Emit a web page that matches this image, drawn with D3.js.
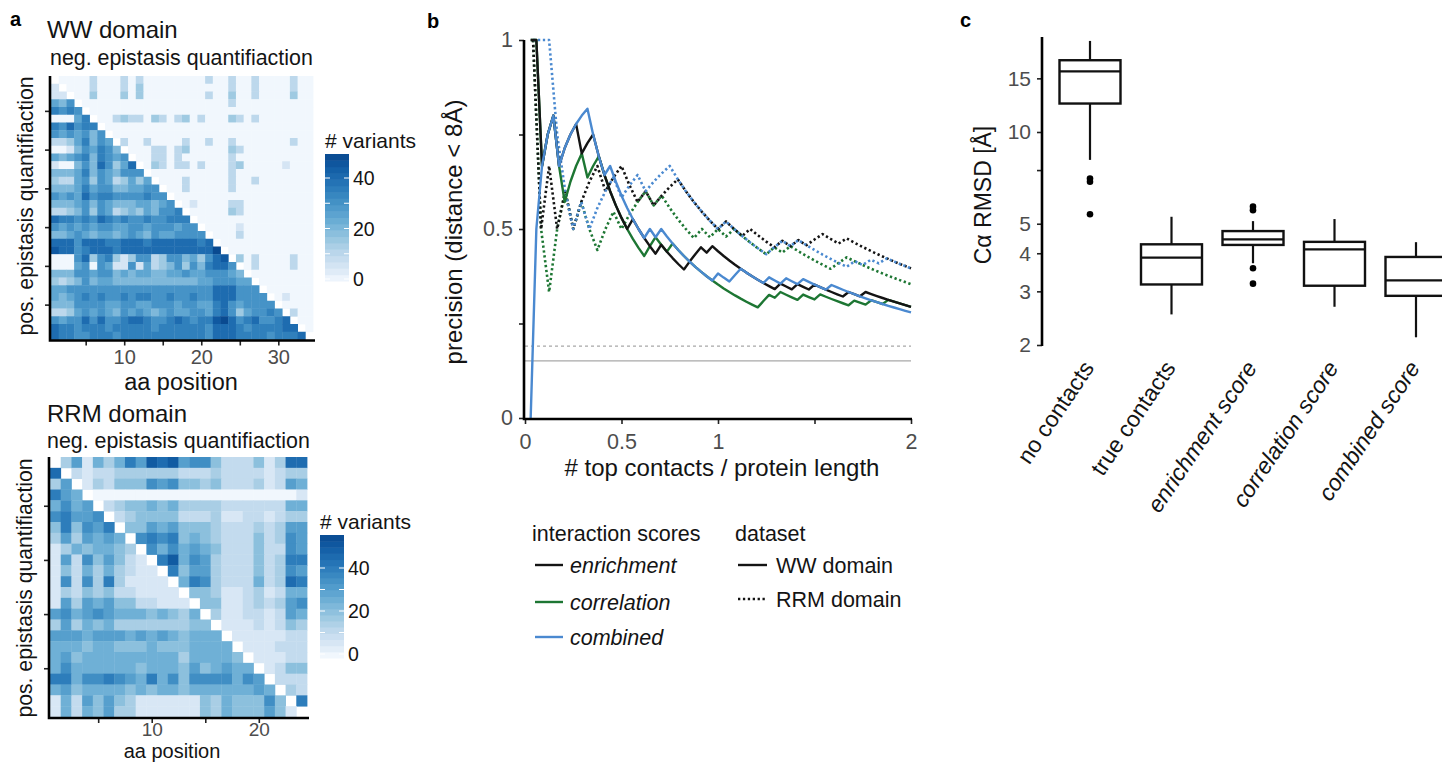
<!DOCTYPE html>
<html>
<head>
<meta charset="utf-8">
<script src="https://cdn.jsdelivr.net/npm/d3@7"></script>
<style>
  body { margin: 0; background: #fff; }
  svg text { font-family: "Liberation Sans", Arial, Helvetica, sans-serif; }
</style>
</head>
<body>
<svg id="fig" width="1442" height="763"></svg>
<script>
// ---------- data ----------
// heatmaps: one string per row (row 1 at top), one char per aa position,
// char = number of variants / 5 (base 36, so "a" = 50), "." = diagonal (no value)
var wwRows = [
  ".0000 20002 02000 00000 20020 02000 0200",
  "1.000 20002 03000 00000 00020 02000 0200",
  "11.00 30003 03000 00000 20030 02000 0300",
  "546.0 00000 00000 00000 00020 00000 0000",
  "7676. 00000 00000 00000 00000 00000 0000",
  "00057 .0023 22032 02302 00032 02000 0000",
  "76867 7.000 00000 00000 00000 00000 0000",
  "65656 46.00 00000 00000 00000 00000 0000",
  "22357 465.2 00200 00200 20020 00000 0200",
  "00146 5764. 00022 02300 00032 00000 0000",
  "54567 47656 .0022 02000 00020 00000 0000",
  "10046 48635 8.032 02202 00023 00000 1000",
  "44457 46546 66.00 00000 00020 00000 0000",
  "32256 36523 535.0 00200 00020 02000 0000",
  "44457 56644 5566. 00200 00020 00000 0000",
  "65658 67766 66766 .0000 00000 00000 0000",
  "44456 46544 45545 6.010 00022 00000 0000",
  "22346 36523 43546 67.00 00032 00000 0000",
  "87767 68767 66766 777.0 00000 00000 0000",
  "65656 56655 66566 6566. 00001 00000 0000",
  "44565 45545 65465 56666 .0002 00000 0000",
  "88868 88778 88788 88887 8.000 00000 0000",
  "98867 88878 88888 88888 8a.00 00000 0000",
  "00068 36731 36623 66453 689.3 02000 0200",
  "00056 06511 61523 46364 7886. 02000 0200",
  "44466 56645 45544 55655 66654 .0000 0000",
  "32346 45544 44444 44445 56665 5.000 0000",
  "55666 66666 66666 66666 68886 66.00 0000",
  "54567 67667 67766 76676 68886 666.0 1000",
  "44466 66556 65566 65665 57865 6666. 0000",
  "22356 56546 56545 65566 57863 56676 .200",
  "65668 68667 88766 78767 79a86 78667 8.00",
  "87767 77677 77767 77777 68887 67777 88.0",
  "87766 77767 77777 77777 68887 77767 778."
];
var rrmRows = [
  ".3615 3586a 9a677 42224 1399",
  "9.212 23333 33222 32222 1233",
  "36.13 24447 67443 42223 1265",
  "865.0 00000 00000 00000 0001",
  "5756. 23445 45333 32222 2255",
  "78667 .2344 44222 31122 1233",
  "48476 8.446 56444 32223 2366",
  "36365 65.78 78454 32224 2376",
  "13545 543.7 57565 42224 2276",
  "16274 6421. 8a576 32224 2388",
  "14253 53211 .8466 32224 2376",
  "17273 83111 1.587 32225 2398",
  "13243 42211 11.44 31123 1255",
  "16365 64422 111.4 41123 2367",
  "67567 65554 5435. 31122 1265",
  "36354 53333 33344 .1112 1243",
  "66656 66565 65455 5.111 1122",
  "55545 54445 44455 55.11 1222",
  "56455 55555 55355 554.1 1122",
  "57555 55545 55464 5655. 1244",
  "88577 87658 57477 77576 .222",
  "56455 55454 55455 55556 5.32",
  "15264 64311 11114 35444 74.8",
  "15254 63311 11114 35444 641."
];
var wwLength = 34, rrmLength = 24;
var wwMax = 49, rrmMax = 55;
var wwTicks = [5, 10, 15, 20, 25, 30], wwTickLabels = [10, 20, 30];
var rrmTicks = [5, 10, 15, 20], rrmTickLabels = [10, 20];
var barTicks = [0, 10, 20, 30, 40], barLabels = [0, 20, 40];

// panel b: number of true contacts among the top k predicted contacts (k = 1, 2, ...)
var wwEnrichHits = [1,2,2,3,4,4,5,6,7,7,8,9, 9,9,9,9,9,9, 10,10,10,10,10, 11,11,11,11,11, 12,13,14,14,
  15,15,15,15,15,15,15,15,15,15,15,15, 16,16,16, 17,17,17, 18,18,18,18,18,18, 19,19,19, 20,20,20,20,20,20,20,20,20];
var wwCorrHits = [1,2,2,3,4,4,4,5,6,7,7,8,9, 9,9,9,9,9,9,9,9, 10, 11,11,11,
  12,12,12,12,12,12,12,12,12,12,12,12,12,12,12,12, 13, 14,14, 15,15,15,15, 16,16,16,
  17,17,17,17,17,17, 18,18,18, 19,19,19, 20,20,20,20,20];
var wwCombHits = [0,1,2,3,4,4,5,6,7,8,9, 9,9,9, 10,10,10,10,10,10,10, 11,11,
  12,12,12,12,12,12,12,12,12,12, 13,13,13, 14, 15,15,15,15,15, 16,16,16, 17,17,17, 18,18,18,18,18,
  19,19,19,19,19,19,19,19,19,19,19,19,19,19,19];
var rrmEnrichHits = [1,1,2,2,3,3,4,5,6, 6,7,8,8,8,9,9,10,11,12, 12,12,12,12,12, 13,13,13, 14,14,14,14,
  15,15, 16,16, 17, 18,18,18, 19,19,19,19,19,19,19,19,19];
var rrmCorrHits = [1,1,1,2,3,3,4,4,4,5, 6,6,7,8,9,9,10, 10,10,10,10, 11,11, 12,12, 13,13,13,13,13,
  14,14, 15,15,15,15,15,15, 16, 17,17,17,17,17,17,17,17,17];
var rrmCombHits = [1,2,3,3,3,3,4,4, 5,6,7,7,8,9,9,10,11,12, 12,12,12,12,12,12, 13,13,13,13,13,13,
  14, 15,15, 16,16,16,16,16,16,16, 17,17, 18,18, 19,19,19,19];
var randomWW = 0.151, randomRRM = 0.19;

// panel c: Ca RMSD boxplots
var boxCats = ["no contacts", "true contacts", "enrichment score", "correlation score", "combined score"];
var boxItalic = [false, false, true, true, true];
var boxLow = [8.1, 2.52, 3.71, 2.67, 2.12];
var boxQ1 = [12.4, 3.16, 4.26, 3.13, 2.90];
var boxMed = [15.8, 3.87, 4.44, 4.12, 3.26];
var boxQ3 = [17.2, 4.28, 4.73, 4.36, 3.89];
var boxHigh = [19.9, 5.27, 5.10, 5.18, 4.35];
var boxOut = [[7.04, 6.87, 5.37], [], [5.69, 5.54, 3.57, 3.18], [], []];
var rmsdTicks = [2, 3, 4, 5, 7.5, 10, 15];

// ---------- helpers ----------
var svg = d3.select("#fig");
var INK = "#141414", GREY = "#4d4d4d";
var BLACK = "#141414", GREEN = "#1d7633", BLUE = "#4a89d0";

function label(x, y, s, size, o) {
  o = o || {};
  var t = svg.append("text").attr("x", x).attr("y", y).text(s)
    .attr("font-size", size).attr("fill", o.fill || INK)
    .attr("text-anchor", o.anchor || "start");
  if (o.bold) t.attr("font-weight", "bold");
  if (o.italic) t.attr("font-style", "italic");
  if (o.rotate) t.attr("transform", "rotate(" + o.rotate + "," + x + "," + y + ")");
  return t;
}

function styleAxis(g, size) {
  g.select(".domain").remove();
  g.selectAll(".tick line").attr("stroke", "#222").attr("stroke-width", 1.6);
  g.selectAll(".tick text").attr("font-size", size).attr("fill", GREY)
    .attr("font-family", "Liberation Sans, Arial, sans-serif");
}

// ---------- panel a: heatmaps ----------
function heatmap(rows, n, box, vmax, ticks, tickLabels, bar) {
  var cells = [];
  rows.forEach(function(r, i) {
    r.replace(/ /g, "").split("").forEach(function(ch, j) {
      if (ch !== ".") cells.push({row: i + 1, col: j + 1, v: parseInt(ch, 36) * 5});
    });
  });
  var ids = d3.range(1, n + 1);
  var x = d3.scaleBand().domain(ids).range([box.x0, box.x1]);
  var y = d3.scaleBand().domain(ids).range([box.y0, box.y1]);
  var color = function(v) {
    var t = Math.max(0, Math.min(v, vmax)) / vmax;
    return d3.interpolateBlues(0.03 + 0.87 * Math.pow(t, 0.8));
  };

  svg.append("g").selectAll("rect").data(cells).join("rect")
    .attr("x", d => x(d.col)).attr("y", d => y(d.row))
    .attr("width", x.bandwidth() + 0.4).attr("height", y.bandwidth() + 0.4)
    .attr("fill", d => color(d.v));

  var xl = d3.scaleLinear().domain([0.5, n + 0.5]).range([box.x0, box.x1]);
  var yl = d3.scaleLinear().domain([0.5, n + 0.5]).range([box.y0, box.y1]);
  var gx = svg.append("g").attr("transform", "translate(0," + (box.y1 + 1) + ")")
    .call(d3.axisBottom(xl).tickValues(ticks)
      .tickFormat(d => tickLabels.indexOf(d) >= 0 ? d : "")
      .tickSize(5).tickPadding(box.pad).tickSizeOuter(0));
  styleAxis(gx, box.tickFont);
  var gy = svg.append("g").attr("transform", "translate(" + (box.x0 - 1) + ",0)")
    .call(d3.axisLeft(yl).tickValues(ticks).tickFormat("").tickSize(5).tickSizeOuter(0));
  styleAxis(gy, 20);
  svg.append("path").attr("fill", "none").attr("stroke", "#000").attr("stroke-width", 2.6)
    .attr("d", "M" + (box.x0 - 1) + "," + box.y0 + "V" + (box.y1 + 1) + "H" + (box.x1 + 2));

  // colour bar
  var bs = d3.scaleLinear().domain([0, 40]).range([bar.y0v, bar.y40v]);
  var vTop = bs.invert(bar.top), vBot = bs.invert(bar.bottom);
  var nb = 20, step = (vTop - vBot) / nb;
  var bins = d3.range(nb).map(i => vBot + (i + 0.5) * step);
  svg.append("g").selectAll("rect").data(bins).join("rect")
    .attr("x", bar.x).attr("width", bar.w)
    .attr("y", d => bs(d + step / 2)).attr("height", d => bs(d - step / 2) - bs(d + step / 2) + 0.5)
    .attr("fill", d => color(d));
  svg.append("g").selectAll("path").data(barTicks).join("path")
    .attr("stroke", "#fff").attr("stroke-width", 1.2)
    .attr("d", d => "M" + bar.x + "," + bs(d) + "h5M" + (bar.x + bar.w - 5) + "," + bs(d) + "h5");
  barLabels.forEach(function(v) {
    label(bar.x + bar.w + 4, bs(v) + 7, v, 19.5, {fill: INK});
  });
  label(bar.x, bar.titleY, "# variants", 21, {});
}

heatmap(wwRows, wwLength, {x0: 51, x1: 313, y0: 76, y1: 339.5, pad: 4, tickFont: 20},
  wwMax, wwTicks, wwTickLabels,
  {x: 325, w: 24, top: 154, bottom: 281, y0v: 279, y40v: 178, titleY: 148});
heatmap(rrmRows, rrmLength, {x0: 50, x1: 307, y0: 457, y1: 717, pad: 0, tickFont: 19},
  rrmMax, rrmTicks, rrmTickLabels,
  {x: 320, w: 24, top: 535, bottom: 658, y0v: 654, y40v: 568, titleY: 529});

label(10, 26, "a", 20, {bold: true, fill: "#000"});
label(47, 38, "WW domain", 24);
label(50, 65, "neg. epistasis quantifiaction", 21.4);
label(33, 206, "pos. epistasis quantifiaction", 21.2, {anchor: "middle", rotate: -90});
label(181, 390, "aa position", 23.5, {anchor: "middle"});

label(47, 422, "RRM domain", 24);
label(47, 448, "neg. epistasis quantifiaction", 21.4);
label(32, 588, "pos. epistasis quantifiaction", 21.2, {anchor: "middle", rotate: -90});
label(172, 758, "aa position", 20, {anchor: "middle"});

// ---------- panel b: precision curves ----------
var xb = d3.scaleLinear().domain([0, 2]).range([525, 911]);
var yb = d3.scaleLinear().domain([0, 1]).range([418, 40]);

svg.append("line").attr("x1", 525).attr("x2", 911).attr("y1", yb(randomRRM)).attr("y2", yb(randomRRM))
  .attr("stroke", "#a8a8a8").attr("stroke-width", 1.3).attr("stroke-dasharray", "3,3");
svg.append("line").attr("x1", 525).attr("x2", 911).attr("y1", yb(randomWW)).attr("y2", yb(randomWW))
  .attr("stroke", "#a8a8a8").attr("stroke-width", 1.3);

var series = [
  {hits: rrmCorrHits, n: rrmLength, color: GREEN, dotted: true},
  {hits: rrmEnrichHits, n: rrmLength, color: BLACK, dotted: true},
  {hits: rrmCombHits, n: rrmLength, color: BLUE, dotted: true},
  {hits: wwCorrHits, n: wwLength, color: GREEN, dotted: false},
  {hits: wwEnrichHits, n: wwLength, color: BLACK, dotted: false},
  {hits: wwCombHits, n: wwLength, color: BLUE, dotted: false}
];
series.forEach(function(s) {
  var line = d3.line()
    .x((h, i) => xb((i + 1) / s.n))
    .y((h, i) => yb(h / (i + 1)));
  svg.append("path").datum(s.hits)
    .attr("fill", "none").attr("stroke", s.color)
    .attr("stroke-width", s.dotted ? 2.6 : 2.4)
    .attr("stroke-dasharray", s.dotted ? "2.3,2.6" : null)
    .attr("stroke-linejoin", "round")
    .attr("d", line);
});

var gbx = svg.append("g").attr("transform", "translate(0,419)")
  .call(d3.axisBottom(xb).tickValues([0, 0.5, 1, 1.5, 2])
    .tickFormat(d => d === 1.5 ? "" : d).tickSize(5).tickPadding(10).tickSizeOuter(0));
styleAxis(gbx, 21.5);
var gby = svg.append("g").attr("transform", "translate(524,0)")
  .call(d3.axisLeft(yb).tickValues([0, 0.25, 0.5, 0.75, 1])
    .tickFormat(d => (d === 0.25 || d === 0.75) ? "" : d).tickSize(5).tickPadding(6).tickSizeOuter(0));
styleAxis(gby, 21.5);
svg.append("path").attr("fill", "none").attr("stroke", "#000").attr("stroke-width", 2.6)
  .attr("d", "M524,40V419H912");

label(427, 28, "b", 20, {bold: true, fill: "#000"});
label(462, 232, "precision (distance < 8Å)", 24, {anchor: "middle", rotate: -90});
label(722, 476, "# top contacts / protein length", 24, {anchor: "middle"});

// legend
label(532, 541, "interaction scores", 21.5);
[["enrichment", BLACK, 565], ["correlation", GREEN, 602], ["combined", BLUE, 637]].forEach(function(it) {
  svg.append("line").attr("x1", 535).attr("x2", 563).attr("y1", it[2]).attr("y2", it[2])
    .attr("stroke", it[1]).attr("stroke-width", 2.4);
  label(570, it[2] + 7.5, it[0], 21.5, {italic: true});
});
label(735, 541, "dataset", 21.5);
[["WW domain", null, 565], ["RRM domain", "2.3,2.6", 599]].forEach(function(it) {
  svg.append("line").attr("x1", 738).attr("x2", 767).attr("y1", it[2]).attr("y2", it[2])
    .attr("stroke", BLACK).attr("stroke-width", 2.4).attr("stroke-dasharray", it[1]);
  label(776, it[2] + 7.5, it[0], 21.5);
});

// ---------- panel c: RMSD boxplots ----------
var xc = d3.scalePoint().domain(boxCats).range([1090, 1416]);
var yc = d3.scaleLog().domain([2, 20.5]).range([345, 37]);
var bw = 61;

var gc = svg.append("g");
boxCats.forEach(function(c, i) {
  var cx = xc(c);
  gc.append("line").attr("x1", cx).attr("x2", cx).attr("y1", yc(boxHigh[i])).attr("y2", yc(boxQ3[i]))
    .attr("stroke", "#111").attr("stroke-width", 2.2);
  gc.append("line").attr("x1", cx).attr("x2", cx).attr("y1", yc(boxQ1[i])).attr("y2", yc(boxLow[i]))
    .attr("stroke", "#111").attr("stroke-width", 2.2);
  gc.append("rect").attr("x", cx - bw / 2).attr("width", bw)
    .attr("y", yc(boxQ3[i])).attr("height", yc(boxQ1[i]) - yc(boxQ3[i]))
    .attr("fill", "#fff").attr("stroke", "#111").attr("stroke-width", 2.4);
  gc.append("line").attr("x1", cx - bw / 2).attr("x2", cx + bw / 2)
    .attr("y1", yc(boxMed[i])).attr("y2", yc(boxMed[i]))
    .attr("stroke", "#111").attr("stroke-width", 2.2);
  gc.selectAll(null).data(boxOut[i]).join("circle")
    .attr("cx", cx).attr("cy", d => yc(d)).attr("r", 3.3).attr("fill", "#000");
  label(cx + 5, 368, c, 23, {anchor: "end", rotate: -56, italic: boxItalic[i]});
});

var gcy = svg.append("g").attr("transform", "translate(1042,0)")
  .call(d3.axisLeft(yc).tickValues(rmsdTicks)
    .tickFormat(d => d === 7.5 ? "" : d).tickSize(5).tickPadding(6).tickSizeOuter(0));
styleAxis(gcy, 21);
svg.append("line").attr("x1", 1042).attr("x2", 1042).attr("y1", 37).attr("y2", 346)
  .attr("stroke", "#000").attr("stroke-width", 2.6);

label(960, 27, "c", 20, {bold: true, fill: "#000"});
label(991, 195, "Cα RMSD [Å]", 23, {anchor: "middle", rotate: -90});
</script>
</body>
</html>
